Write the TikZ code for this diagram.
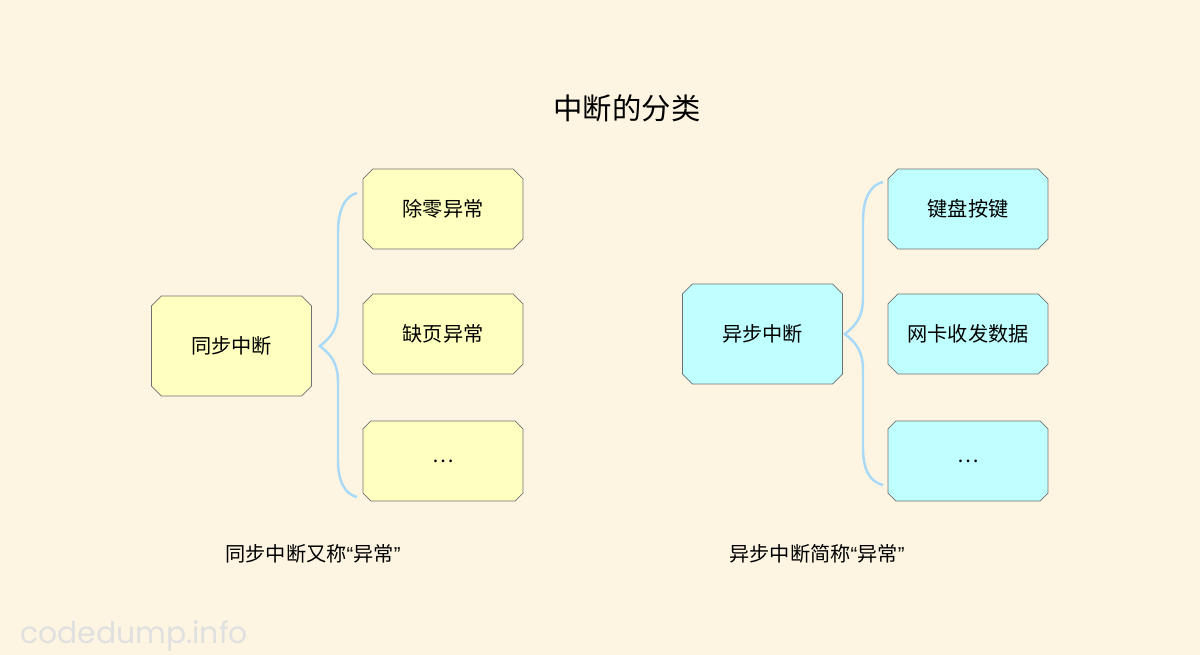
\documentclass[tikz,border=0pt]{standalone}
\usepackage{fontspec}
\setmainfont{Noto Sans CJK SC}
\newfontfamily\markfont{Poppins}
\newfontfamily\quotefont{Liberation Sans}
\usetikzlibrary{shapes.misc}
\definecolor{paper}{HTML}{FDF5E2}
\definecolor{syncfill}{HTML}{FFFFC0}
\definecolor{asyncfill}{HTML}{C0FFFF}
\definecolor{boxline}{HTML}{707070}
\definecolor{bracecol}{HTML}{A8DAF8}
\newcommand{\quoted}[1]{{\quotefont “}#1{\quotefont ”}}

\begin{document}
\begin{tikzpicture}[x=0.02cm,y=-0.02cm,
  box/.style={chamfered rectangle,chamfered rectangle xsep=0.07cm,draw=boxline,
    minimum width=3.2cm,minimum height=1.6cm,inner sep=0pt,font=\fontsize{11.5}{14}\selectfont},
  bigbox/.style={box,minimum height=2cm},
  brace/.style={draw=bracecol,line width=1.4pt},
  caption/.style={font=\fontsize{11.5}{14}\selectfont}]
\fill[paper] (0,0) rectangle (1200,655);
\useasboundingbox (0,0) rectangle (1200,655);
\node[font=\fontsize{16.7}{20}\selectfont] (title) at (627,108) {中断的分类};
% synchronous side
\node[bigbox,fill=syncfill] (sync) at (231.5,346) {同步中断};
\node[box,fill=syncfill] (zero) at (443,209) {除零异常};
\node[box,fill=syncfill] (page) at (443,334) {缺页异常};
\node[box,fill=syncfill] (more1) at (443,461) {\dots};
\coordinate (tip1) at ([xshift=0.16cm]sync.east);
\coordinate (top1) at (357,193);
\coordinate (bot1) at (357,497);
\draw[brace] (top1) .. controls (345,196) and (338,210) .. (338,232) -- (338,310)
  .. controls (338,330) and (330,338) .. (tip1)
  .. controls (330,354) and (338,362) .. (338,382) -- (338,460)
  .. controls (338,482) and (345,494) .. (bot1);
\node[caption] (capsync) at (313,554) {同步中断又称\quoted{异常}};
% asynchronous side
\node[bigbox,fill=asyncfill] (async) at (762.5,334) {异步中断};
\node[box,fill=asyncfill] (key) at (968,209) {键盘按键};
\node[box,fill=asyncfill] (nic) at (968,334) {网卡收发数据};
\node[box,fill=asyncfill] (more2) at (968,461) {\dots};
\coordinate (tip2) at ([xshift=0.04cm]async.east);
\coordinate (top2) at (883,182);
\coordinate (bot2) at (883,485);
\draw[brace] (top2) .. controls (870,185) and (863,199) .. (863,221) -- (863,298)
  .. controls (863,318) and (855,326) .. (tip2)
  .. controls (855,342) and (863,350) .. (863,370) -- (863,448)
  .. controls (863,470) and (870,482) .. (bot2);
\node[caption] (capasync) at (817,554) {异步中断简称\quoted{异常}};
\node[font=\markfont\fontsize{17}{20}\selectfont,text=black!12] (mark) at (134,636) {codedump.info};
\end{tikzpicture}
\end{document}
